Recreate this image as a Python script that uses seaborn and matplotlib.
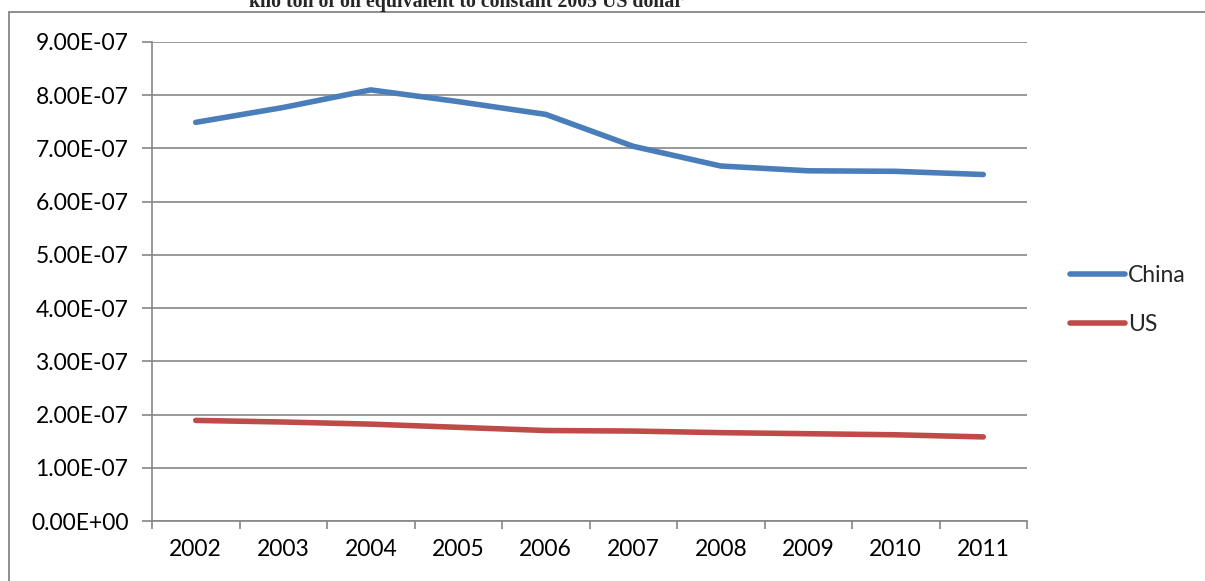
import matplotlib
matplotlib.use("Agg")
import matplotlib.pyplot as plt
from matplotlib.lines import Line2D
from matplotlib.ticker import FixedLocator, FuncFormatter
import seaborn as sns
import pandas as pd

years = [2002, 2003, 2004, 2005, 2006, 2007, 2008, 2009, 2010, 2011]
china = [7.49e-7, 7.77e-7, 8.10e-7, 7.88e-7, 7.64e-7, 7.04e-7, 6.67e-7, 6.58e-7, 6.57e-7, 6.51e-7]
us = [1.89e-7, 1.86e-7, 1.82e-7, 1.76e-7, 1.70e-7, 1.69e-7, 1.66e-7, 1.64e-7, 1.62e-7, 1.58e-7]
series_names = ["China", "US"]
series_colors = ["#4A7EBB", "#BE4B48"]
title_text = "kilo ton of oil equivalent to constant 2005 US dollar"

df = pd.DataFrame({
    "year": years * 2,
    "value": china + us,
    "country": [series_names[0]] * len(years) + [series_names[1]] * len(years),
})

sns.set_style("white")
plt.rcParams["font.family"] = ["Lato", "DejaVu Sans"]

W, H = 1205, 581
fig = plt.figure(figsize=(W / 100, H / 100), dpi=100)
ax = fig.add_axes([152 / W, 1 - 521 / H, (1027 - 152) / W, (521 - 42) / H])

grey = "#868686"
lw = 4.0

sns.lineplot(data=df, x="year", y="value", hue="country",
             palette=dict(zip(series_names, series_colors)),
             linewidth=lw, ax=ax, legend=False,
             solid_capstyle="round", solid_joinstyle="round")

ax.set_xlim(years[0] - 0.5, years[-1] + 0.5)
ax.set_ylim(0, 9e-7)

yt = [i * 1e-7 for i in range(10)]
ax.yaxis.set_major_locator(FixedLocator(yt))
ax.yaxis.set_major_formatter(FuncFormatter(lambda v, p: f"{v:.2E}"))
ax.grid(axis="y", color=grey, linewidth=1.2)
ax.set_axisbelow(True)

# category boundary ticks on the x axis, labels centred in each category
ax.xaxis.set_major_locator(FixedLocator([y - 0.5 for y in years] + [years[-1] + 0.5]))
ax.xaxis.set_major_formatter(FuncFormatter(lambda v, p: ""))
ax.xaxis.set_minor_locator(FixedLocator(years))
ax.xaxis.set_minor_formatter(FuncFormatter(lambda v, p: f"{int(round(v))}"))

ax.tick_params(axis="x", which="major", length=6, width=1.2, color=grey, direction="out", bottom=True)
ax.tick_params(axis="x", which="minor", length=0, labelsize=16.5, pad=13, colors="black", bottom=True)
ax.tick_params(axis="y", which="major", length=7, width=1.2, color=grey, direction="out",
               labelsize=16.5, pad=10, labelcolor="black", left=True)

for s in ["top", "right"]:
    ax.spines[s].set_visible(False)
for s in ["left", "bottom"]:
    ax.spines[s].set_color(grey)
    ax.spines[s].set_linewidth(1.2)

ax.set_xlabel("")
ax.set_ylabel("")

handles = [Line2D([], [], color=c, linewidth=lw, solid_capstyle="round") for c in series_colors]
fig.legend(handles, series_names, loc="center left",
           bbox_to_anchor=(1049 / W, 1 - 300 / H), frameon=False,
           fontsize=16.5, handlelength=2.4, handletextpad=0.15, labelspacing=1.2)

# outer chart frame
fig.add_artist(Line2D([9 / W, 9 / W], [0, 1 - 12 / H], color=grey, linewidth=1.3,
                      transform=fig.transFigure))
fig.add_artist(Line2D([9 / W, 1], [1 - 12 / H, 1 - 12 / H], color=grey, linewidth=1.3,
                      transform=fig.transFigure))

fig.text(466 / W, 1 - 7 / H, title_text, ha="center", va="baseline",
         fontsize=14.3, fontweight="bold", family=["Liberation Serif", "DejaVu Serif"])

fig.savefig("out.png", dpi=100, facecolor="white")
